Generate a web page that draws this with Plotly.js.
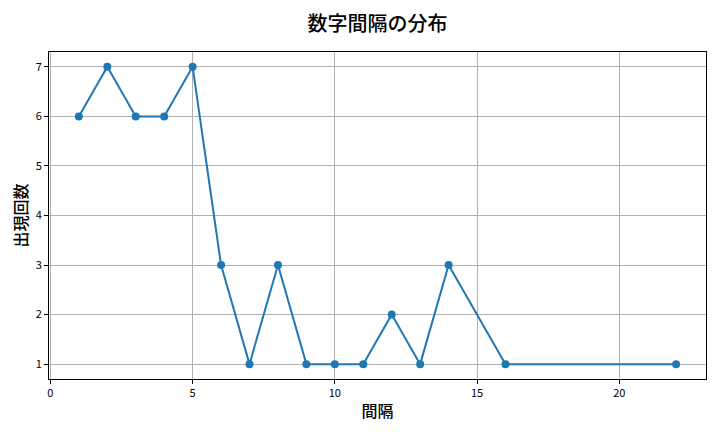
<!DOCTYPE html>
<html>
<head>
<meta charset="utf-8">
<script src="https://cdn.plot.ly/plotly-3.0.1.min.js"></script>
<style>
  html, body { margin: 0; padding: 0; background: #fff; }
  #chart { width: 720px; height: 432px; }
</style>
</head>
<body>
<div id="chart"></div>
<script>
// 間隔 (gap) and how often it appears
const gaps = [1, 2, 3, 4, 5, 6, 7, 8, 9, 10, 11, 12, 13, 14, 16, 22];
const counts = [6, 7, 6, 6, 7, 3, 1, 3, 1, 1, 1, 2, 1, 3, 1, 1];
const xTicks = [0, 5, 10, 15, 20];
const yTicks = [1, 2, 3, 4, 5, 6, 7];

const font = "Noto Sans CJK JP, Noto Sans, sans-serif";

const trace = {
  x: gaps,
  y: counts,
  type: "scatter",
  mode: "lines+markers",
  line: { color: "#1f77b4", width: 2 },
  marker: { color: "#1f77b4", size: 8 },
  hoverinfo: "x+y",
};

const axisBase = {
  showline: true,
  linecolor: "#000",
  linewidth: 1,
  mirror: true,
  ticks: "outside",
  ticklen: 4,
  tickcolor: "#000",
  showgrid: true,
  gridcolor: "#b0b0b0",
  gridwidth: 1,
  zeroline: false,
  tickfont: { family: font, size: 11, color: "#000" },
};

const layout = {
  width: 720,
  height: 432,
  margin: { l: 49, r: 14, t: 52, b: 53 },
  paper_bgcolor: "#fff",
  plot_bgcolor: "#fff",
  showlegend: false,
  title: {
    text: "数字間隔の分布",
    font: { family: font, size: 20, color: "#000", weight: 500 },
    xref: "paper",
    x: 0.5,
    xanchor: "center",
    yref: "container",
    y: 0.945,
    yanchor: "middle",
  },
  xaxis: Object.assign({}, axisBase, {
    range: [-0.05, 23.05],
    tickvals: xTicks,
    ticktext: xTicks.map(String),
    title: { text: "間隔", font: { family: font, size: 16, color: "#000", weight: 500 }, standoff: 6 },
  }),
  yaxis: Object.assign({}, axisBase, {
    range: [0.7, 7.3],
    tickvals: yTicks,
    ticktext: yTicks.map(String),
    title: { text: "出現回数", font: { family: font, size: 16, color: "#000", weight: 500 }, standoff: 4 },
  }),
};

Plotly.newPlot("chart", [trace], layout, { displayModeBar: false, staticPlot: true });
</script>
</body>
</html>
